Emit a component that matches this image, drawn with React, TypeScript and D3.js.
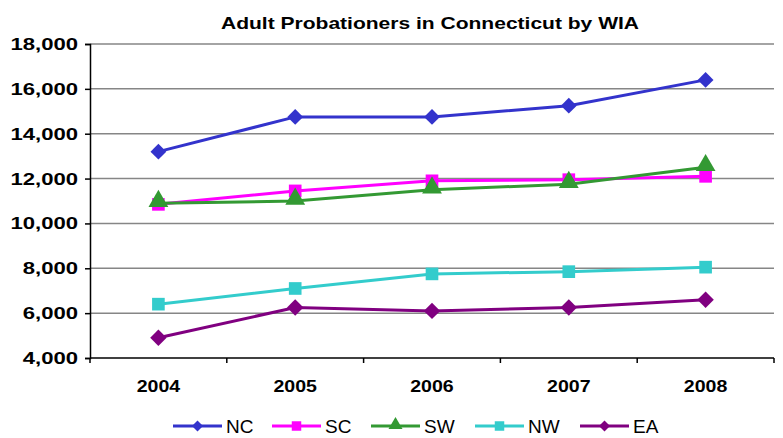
import { useEffect, useRef } from 'react';
import * as d3 from 'd3';

const years = ['2004', '2005', '2006', '2007', '2008'];
const yTicks = [4000, 6000, 8000, 10000, 12000, 14000, 16000, 18000];

const ncValues = [13200, 14750, 14750, 15250, 16400];
const scValues = [10850, 11450, 11900, 11950, 12100];
const swValues = [10900, 11000, 11500, 11750, 12500];
const nwValues = [6400, 7100, 7750, 7850, 8050];
const eaValues = [4900, 6250, 6100, 6250, 6600];

const seriesNames = ['NC', 'SC', 'SW', 'NW', 'EA'];
const seriesColors = ['#3333CC', '#FF00FF', '#339933', '#33CCCC', '#800080'];

// widen text the way the reference picture is stretched
const stretch = (sel: d3.Selection<any, any, any, any>, factor: number) => {
    sel.each(function () {
        const t = this as SVGTextElement;
        const w = t.getComputedTextLength();
        t.setAttribute('textLength', String(w * factor));
        t.setAttribute('lengthAdjust', 'spacingAndGlyphs');
    });
};

const App = () => {
    const chartRef = useRef<SVGSVGElement | null>(null);

    useEffect(() => {
        const width = 783;
        const height = 438;
        const margin = { left: 90, right: 9, top: 44, bottom: 80 };

        const svg = d3.select(chartRef.current);
        svg.selectAll('*').remove();

        const allValues = [ncValues, scValues, swValues, nwValues, eaValues];
        // diamonds are squares turned 45 degrees
        const symbols = [d3.symbolSquare, d3.symbolSquare, d3.symbolTriangle, d3.symbolSquare, d3.symbolSquare];
        const rotations = [45, 0, 0, 0, 45];
        const symbolSizes = [125, 160, 170, 160, 135];
        const legendSizes = [60, 90, 85, 90, 60];

        const xScale = d3.scaleBand<string>()
            .domain(years)
            .range([margin.left, width - margin.right]);

        const yScale = d3.scaleLinear()
            .domain([4000, 18000])
            .range([height - margin.bottom, margin.top]);

        const font = 'Liberation Sans, Arial, sans-serif';

        // title
        const title = svg.append('text')
            .attr('x', 430)
            .attr('y', 29)
            .attr('text-anchor', 'middle')
            .style('font-family', font)
            .style('font-weight', 'bold')
            .style('font-size', '17px')
            .text('Adult Probationers in Connecticut by WIA');
        const tw = (title.node() as SVGTextElement).getComputedTextLength();
        stretch(title, 418 / tw);

        // gridlines
        svg.append('g')
            .selectAll('line')
            .data(yTicks.filter(t => t > 4000))
            .join('line')
            .attr('x1', margin.left)
            .attr('x2', width - margin.right)
            .attr('y1', d => yScale(d))
            .attr('y2', d => yScale(d))
            .attr('stroke', '#868686')
            .attr('stroke-width', 1.5);

        // y axis
        const yAxis = svg.append('g')
            .attr('transform', `translate(${margin.left},0)`)
            .call(d3.axisLeft(yScale).tickValues(yTicks).tickSize(5).tickPadding(7)
                .tickFormat(d => d3.format(',')(d as number)));
        yAxis.select('.domain').attr('stroke', '#000').attr('stroke-width', 1.5);
        yAxis.selectAll('line').attr('stroke', '#000').attr('stroke-width', 1.5);
        const yLabels = yAxis.selectAll('text')
            .style('font-family', font)
            .style('font-weight', 'bold')
            .style('font-size', '17px')
            .attr('fill', '#000');
        stretch(yLabels, 1.3);

        // x axis
        const boundaries = years.map(y => xScale(y) as number).concat([width - margin.right]);
        const xAxisG = svg.append('g');
        xAxisG.append('line')
            .attr('x1', margin.left)
            .attr('x2', width - margin.right)
            .attr('y1', yScale(4000))
            .attr('y2', yScale(4000))
            .attr('stroke', '#000')
            .attr('stroke-width', 1.5);
        xAxisG.selectAll('line.tick')
            .data(boundaries)
            .join('line')
            .attr('class', 'tick')
            .attr('x1', d => d)
            .attr('x2', d => d)
            .attr('y1', yScale(4000))
            .attr('y2', yScale(4000) + 5)
            .attr('stroke', '#000')
            .attr('stroke-width', 1.5);
        const xLabels = xAxisG.selectAll('text')
            .data(years)
            .join('text')
            .attr('x', d => (xScale(d) as number) + xScale.bandwidth() / 2)
            .attr('y', yScale(4000) + 34)
            .attr('text-anchor', 'middle')
            .style('font-family', font)
            .style('font-weight', 'bold')
            .style('font-size', '17px')
            .text(d => d);
        stretch(xLabels, 1.15);

        const line = d3.line<number>()
            .x((_, i) => (xScale(years[i]) as number) + xScale.bandwidth() / 2)
            .y(d => yScale(d));

        allValues.forEach((vals, si) => {
            svg.append('path')
                .datum(vals)
                .attr('fill', 'none')
                .attr('stroke', seriesColors[si])
                .attr('stroke-width', 3)
                .attr('d', line);

            svg.append('g')
                .selectAll('path')
                .data(vals)
                .join('path')
                .attr('transform', (d, i) => `translate(${(xScale(years[i]) as number) + xScale.bandwidth() / 2},${yScale(d) + (symbols[si] === d3.symbolTriangle ? -2 : 0)}) rotate(${rotations[si]})`)
                .attr('d', d3.symbol().type(symbols[si]).size(symbolSizes[si])())
                .attr('fill', seriesColors[si]);
        });

        // legend
        const legendX = [173, 272, 371, 475, 580];
        const legendY = 426;
        const legend = svg.append('g');
        seriesNames.forEach((name, si) => {
            const x0 = legendX[si];
            legend.append('line')
                .attr('x1', x0)
                .attr('x2', x0 + 49)
                .attr('y1', legendY)
                .attr('y2', legendY)
                .attr('stroke', seriesColors[si])
                .attr('stroke-width', 3);
            legend.append('path')
                .attr('transform', `translate(${x0 + 24.5},${legendY + (symbols[si] === d3.symbolTriangle ? -1 : 0)}) rotate(${rotations[si]})`)
                .attr('d', d3.symbol().type(symbols[si]).size(legendSizes[si])())
                .attr('fill', seriesColors[si]);
            legend.append('text')
                .attr('x', x0 + 53)
                .attr('y', legendY + 7)
                .style('font-family', font)
                .style('font-size', '19px')
                .text(name);
        });
    }, []);

    return (
        <svg ref={chartRef} width={783} height={438} style={{ position: 'absolute', left: 0, top: 0, background: '#fff' }}></svg>
    );
};

export default App;
